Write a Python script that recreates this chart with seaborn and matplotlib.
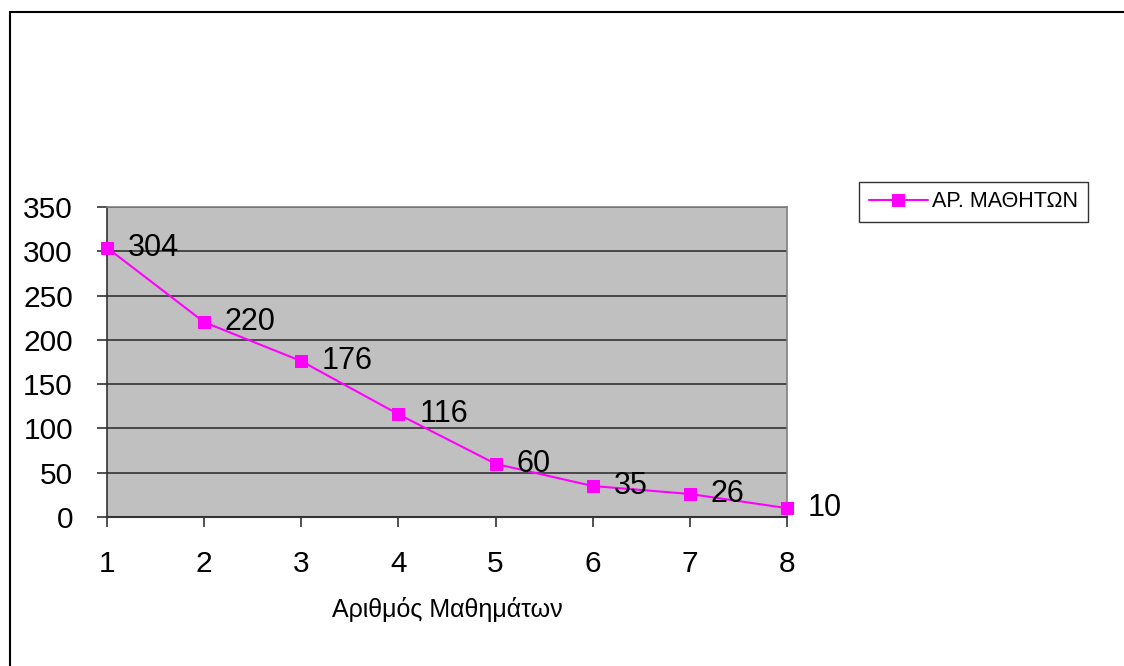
import matplotlib
matplotlib.use("Agg")
import matplotlib.pyplot as plt
import matplotlib.patches as mpatches
import pandas as pd
import seaborn as sns

# data
lessons = [1, 2, 3, 4, 5, 6, 7, 8]
students = [304, 220, 176, 116, 60, 35, 26, 10]
y_ticks = [0, 50, 100, 150, 200, 250, 300, 350]

df = pd.DataFrame({"Αριθμός Μαθημάτων": lessons, "ΑΡ. ΜΑΘΗΤΩΝ": students})

sns.set_style("white")
plt.rcParams["font.family"] = ["Liberation Sans", "DejaVu Sans"]
plt.rcParams["text.color"] = "black"
plt.rcParams["axes.labelcolor"] = "black"
plt.rcParams["xtick.color"] = "black"
plt.rcParams["ytick.color"] = "black"

W, H = 1124, 666
fig = plt.figure(figsize=(W / 100, H / 100), dpi=100)
ax = fig.add_axes([107 / W, 1 - 517 / H, (787 - 107) / W, (517 - 207) / H])
ax.set_facecolor("#C0C0C0")

sns.lineplot(data=df, x="Αριθμός Μαθημάτων", y="ΑΡ. ΜΑΘΗΤΩΝ", ax=ax,
             color="#FF00FF", linewidth=1.5, marker="s", markersize=9,
             markeredgecolor="#FF00FF", label="ΑΡ. ΜΑΘΗΤΩΝ", clip_on=False, zorder=3)

for x, y in zip(lessons, students):
    ax.annotate(str(y), (x, y), xytext=(15, 0), textcoords="offset points",
                ha="left", va="center", fontsize=22, color="black", zorder=4)

ax.set_xlim(1, 8)
ax.set_ylim(0, 350)
ax.set_xticks(lessons)
ax.set_yticks(y_ticks)
ax.yaxis.grid(True, color="#333333", linewidth=1.2)
ax.xaxis.grid(False)
ax.set_axisbelow(True)

ax.spines["top"].set_color("#808080")
ax.spines["top"].set_linewidth(1.2)
ax.spines["right"].set_color("#808080")
ax.spines["right"].set_linewidth(1.2)
ax.spines["left"].set_color("#333333")
ax.spines["bottom"].set_color("#333333")
ax.spines["left"].set_linewidth(1.2)
ax.spines["bottom"].set_linewidth(1.5)

ax.tick_params(axis="both", direction="out", length=7.5, width=1.2, color="#333333",
               labelsize=21.5, labelcolor="black", left=True, bottom=True)
ax.tick_params(axis="x", pad=16)
ax.tick_params(axis="y", pad=17)

ax.set_xlabel("Αριθμός Μαθημάτων", fontsize=18, labelpad=14, color="black")
ax.set_ylabel("")

leg = ax.legend(loc="center left", bbox_to_anchor=(859 / W, 1 - 202 / H),
                bbox_transform=fig.transFigure, fontsize=15.5, frameon=True,
                fancybox=False, borderaxespad=0, borderpad=0.45,
                handlelength=2.75, handletextpad=0.2, markerscale=1.0)
leg.get_frame().set_edgecolor("black")
leg.get_frame().set_linewidth(1.0)
for t in leg.get_texts():
    t.set_color("black")

# outer chart-area border (only top and left visible)
fig.patches.append(mpatches.Rectangle((10 / W, -0.1), 1.2, 1 - 12 / H + 0.1,
                                      transform=fig.transFigure, fill=False,
                                      edgecolor="black", linewidth=1.5))

fig.savefig("out.png", dpi=100, facecolor="white")
